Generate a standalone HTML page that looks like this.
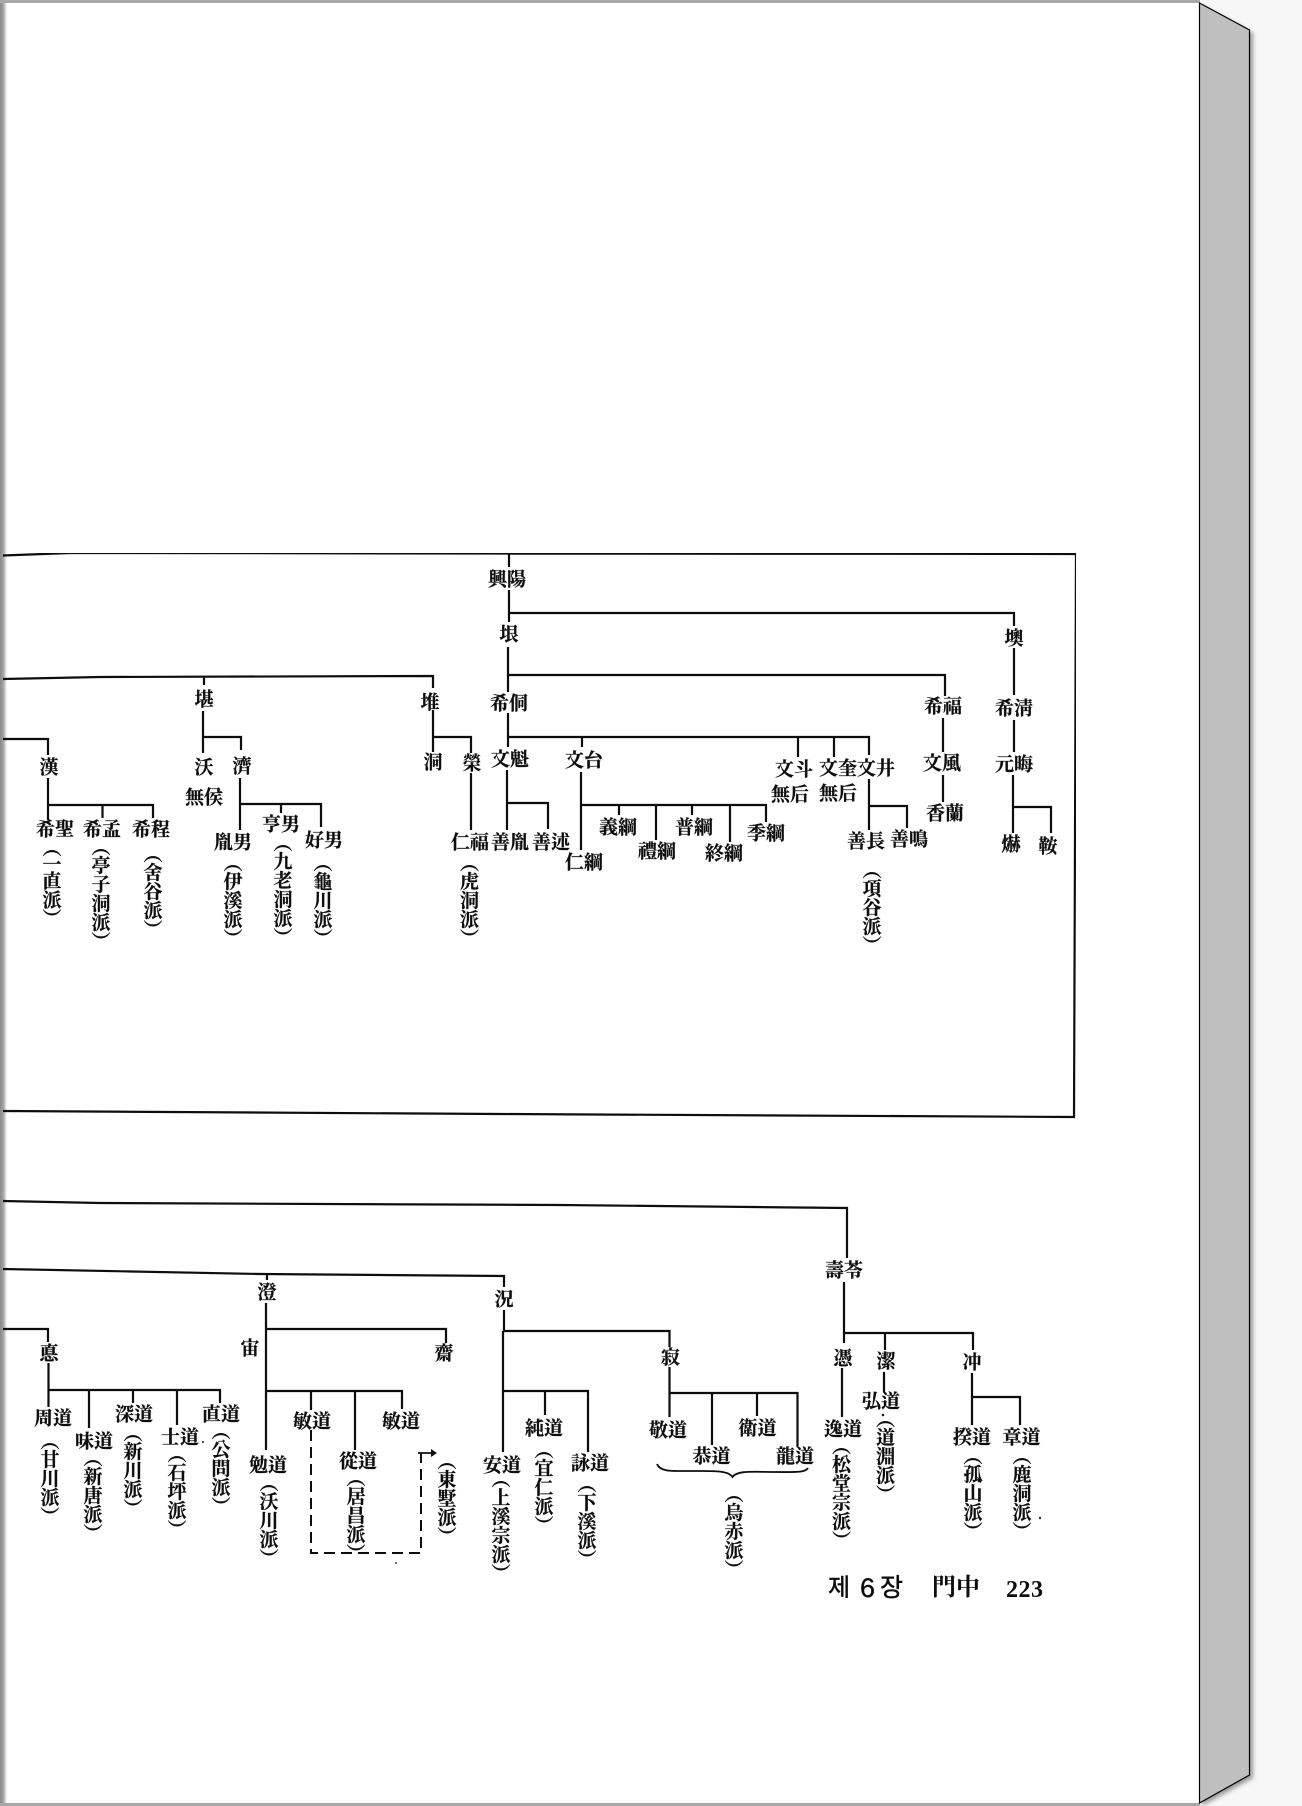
<!DOCTYPE html>
<html lang="ko">
<head>
<meta charset="utf-8">
<style>
html,body{margin:0;padding:0;background:#f7f7f7;}
svg{display:block;position:absolute;left:0;top:0;}
.t{font-family:"Liberation Serif","Noto Serif CJK SC","Noto Serif CJK JP",serif;font-size:19px;font-weight:700;fill:#111;stroke:#111;stroke-width:.25px;text-anchor:middle;dominant-baseline:central;transform:translateY(1px);}
.v{font-family:"Liberation Serif","Noto Serif CJK SC","Noto Serif CJK JP",serif;font-size:19px;font-weight:700;fill:#111;stroke:#111;stroke-width:.25px;writing-mode:vertical-rl;letter-spacing:0;font-feature-settings:"vpal";transform:translateX(-1px);}
.f{font-family:"Liberation Sans","Noto Sans CJK KR",sans-serif;font-size:25px;font-weight:700;fill:#111;dominant-baseline:central;}
</style>
</head>
<body>
<svg width="1302" height="1806" viewBox="0 0 1302 1806" xmlns="http://www.w3.org/2000/svg">
<defs>
<linearGradient id="lg" x1="0" x2="1" y1="0" y2="0"><stop offset="0" stop-color="#8a8a8a"/><stop offset=".45" stop-color="#a0a0a0"/><stop offset="1" stop-color="#ffffff"/></linearGradient>
<filter id="sh" x="-20%" y="-2%" width="140%" height="104%"><feGaussianBlur stdDeviation="2"/></filter>
<filter id="soft" x="0" y="0" width="100%" height="100%"><feGaussianBlur stdDeviation="0.35"/></filter>
</defs>
<rect width="1302" height="1806" fill="#f7f7f7"/>
<polygon points="1202,6 1253,33 1253,1778 1202,1806" fill="#9a9a9a" filter="url(#sh)"/>
<rect x="0" y="0" width="1199.5" height="1806" fill="#fff"/>
<rect x="0" y="0" width="7" height="1806" fill="url(#lg)"/>
<rect x="0" y="0" width="1200" height="3" fill="#a8a8a8"/>
<rect x="0" y="1803" width="1200" height="3" fill="#a8a8a8"/>
<polygon points="1199.5,3 1249.5,30 1249.5,1775 1199.5,1803" fill="#bfbfbf" stroke="#000" stroke-width="1.2"/>

<g filter="url(#soft)">
<path fill="none" stroke="#111" stroke-width="2.200" d="
M3 555.500 L70 553 L509 553.500 L1076 554 L1074 1117 L500 1114 L3 1111
M3 679 L100 677 L433 676 L433 688
M204 676 V685
M203 711 V753 M203 737 H241 V750
M433 710 V752 M433 737 H471 V753
M3 739 H48 V755 M48 778 V820 M48 805 H153 V818 M102.500 805 V818
M240 778 V830 M240 804 H321 V827 M281 804 V813
M471 773 V830
M509 554 V567 M509 590 V622 M509 613 H1014 V626
M508 647 V692 M508 675 H945 V696
M508 713 V747 M508 737 H869 V755 M582 737 V747 M798 737 V757 M834 737 V757
M507 770 V830 M507 803 H548 V829
M581 772 V850 M581 805 H766 V822 M619 805 V815 M656 805 V840 M692 805 V815 M730 805 V842
M869 779 V830 M869 806 H907 V828
M943 718 V752 M943 775 V802
M1014 648 V695 M1014 720 V752 M1013 775 V833 M1013 807 H1051 V833
M3 1201 L100 1203 L560 1205 L847 1208 V1258
M844 1282 V1343 M844 1333 H973 V1350 M885 1333 V1350
M842 1368 V1417 M884 1372 V1392 M972 1373 V1425 M972 1397 H1020 V1425
M3 1269 L260 1274 L504 1276 V1287 M267 1274 V1280
M266 1303 V1450 M266 1329 H446 V1343 M266 1391 H402 V1409 M311 1391 V1410 M355 1391 V1450
M3 1329 H48 V1342 M48.500 1363 V1407 M48 1390 H220 V1403 M89 1390 V1428 M133 1390 V1403 M177 1390 V1425
M504 1310 V1331 M503 1331 V1452 M504 1331 H669.500 V1347 M503 1391 H588 V1452 M545 1391 V1415
M669.500 1367 V1417 M669.500 1393 H797.500 V1447 M712 1393 V1445 M757 1393 V1416
"/>
<path fill="none" stroke="#111" stroke-width="2" stroke-dasharray="11 6" d="M311 1430 V1553 H421 V1453"/>
<path fill="none" stroke="#111" stroke-width="1.800" d="M418 1453 H435"/>
<path fill="#111" d="M431 1449 L437 1453 L431 1457 Z"/>
<path fill="none" stroke="#111" stroke-width="1.800" d="M657 1464 C660 1472 672 1471 690 1471 C712 1471 728 1470 732.500 1477 C737 1470 755 1472 775 1472 C795 1472 805 1473 808 1468"/>
<circle cx="203" cy="1442" r="1" fill="#222"/><circle cx="396" cy="1563" r="1" fill="#444"/><circle cx="883" cy="1415" r="1.300" fill="#222"/><circle cx="1040" cy="1518" r="1.200" fill="#222"/>

<g class="lab">
<text class="t" x="507" y="579">興陽</text>
<text class="t" x="204" y="699">堪</text>
<text class="t" x="430" y="702">堆</text>
<text class="t" x="433" y="762">洞</text>
<text class="t" x="472" y="763">榮</text>
<text class="t" x="204" y="767">沃</text>
<text class="t" x="242" y="766">濟</text>
<text class="t" x="204" y="797">無侯</text>
<text class="t" x="49" y="767">漢</text>
<text class="t" x="55" y="829">希聖</text>
<text class="t" x="102" y="829">希孟</text>
<text class="t" x="151" y="829">希程</text>
<text class="t" x="233" y="842">胤男</text>
<text class="t" x="281" y="824">亨男</text>
<text class="t" x="324" y="840">好男</text>
<text class="t" x="470" y="842">仁福</text>
<text class="t" x="510" y="842">善胤</text>
<text class="t" x="551" y="842">善述</text>
<text class="t" x="509" y="634">垠</text>
<text class="t" x="509" y="703">希侗</text>
<text class="t" x="510" y="759">文魁</text>
<text class="t" x="584" y="760">文台</text>
<text class="t" x="794" y="769">文斗</text>
<text class="t" x="838" y="768">文奎</text>
<text class="t" x="876" y="768">文井</text>
<text class="t" x="790" y="794">無后</text>
<text class="t" x="838" y="793">無后</text>
<text class="t" x="618" y="827">義綱</text>
<text class="t" x="657" y="851">禮綱</text>
<text class="t" x="694" y="827">普綱</text>
<text class="t" x="724" y="853">終綱</text>
<text class="t" x="766" y="833">季綱</text>
<text class="t" x="584" y="862">仁綱</text>
<text class="t" x="866" y="841">善長</text>
<text class="t" x="909" y="839">善鳴</text>
<text class="t" x="943" y="706">希福</text>
<text class="t" x="942" y="763">文風</text>
<text class="t" x="945" y="813">香蘭</text>
<text class="t" x="1014" y="638">墺</text>
<text class="t" x="1014" y="708">希淸</text>
<text class="t" x="1014" y="764">元晦</text>
<text class="t" x="1011" y="844">爀</text>
<text class="t" x="1048" y="846">鞍</text>

<text class="t" x="844" y="1270">壽苓</text>
<text class="t" x="843" y="1358">憑</text>
<text class="t" x="886" y="1361">潔</text>
<text class="t" x="972" y="1362">冲</text>
<text class="t" x="881" y="1401">弘道</text>
<text class="t" x="843" y="1429">逸道</text>
<text class="t" x="972" y="1437">揆道</text>
<text class="t" x="1021.500" y="1437">章道</text>
<text class="t" x="267" y="1292">澄</text>
<text class="t" x="250" y="1348">宙</text>
<text class="t" x="444" y="1353">齋</text>
<text class="t" x="312" y="1421">敏道</text>
<text class="t" x="401" y="1421">敏道</text>
<text class="t" x="358" y="1461">從道</text>
<text class="t" x="268" y="1465">勉道</text>
<text class="t" x="49" y="1353">悳</text>
<text class="t" x="53" y="1418">周道</text>
<text class="t" x="94" y="1441">味道</text>
<text class="t" x="134" y="1414">深道</text>
<text class="t" x="180" y="1437">士道</text>
<text class="t" x="221" y="1414">直道</text>
<text class="t" x="504" y="1299">況</text>
<text class="t" x="670.500" y="1357">寂</text>
<text class="t" x="668" y="1430">敬道</text>
<text class="t" x="711.500" y="1456">恭道</text>
<text class="t" x="757.500" y="1428">衛道</text>
<text class="t" x="795" y="1456">龍道</text>
<text class="t" x="502" y="1465">安道</text>
<text class="t" x="544" y="1428">純道</text>
<text class="t" x="590" y="1463">詠道</text>

<text class="v" x="51" y="847">（一直派）</text>
<text class="v" x="100" y="846">（亭子洞派）</text>
<text class="v" x="152" y="853">（舍谷派）</text>
<text class="v" x="232" y="862">（伊溪派）</text>
<text class="v" x="282" y="842">（九老洞派）</text>
<text class="v" x="322" y="862">（龜川派）</text>
<text class="v" x="468.500" y="862">（虎洞派）</text>
<text class="v" x="871" y="869">（項谷派）</text>
<text class="v" x="840.500" y="1445">（松堂宗派）</text>
<text class="v" x="884.500" y="1418">（道淵派）</text>
<text class="v" x="972" y="1455">（孤山派）</text>
<text class="v" x="1021" y="1455">（鹿洞派）</text>
<text class="v" x="268" y="1482">（沃川派）</text>
<text class="v" x="355" y="1477">（居昌派）</text>
<text class="v" x="446" y="1460">（東墅派）</text>
<text class="v" x="49" y="1440">（甘川派）</text>
<text class="v" x="92" y="1457">（新唐派）</text>
<text class="v" x="132" y="1432">（新川派）</text>
<text class="v" x="176" y="1453">（石坪派）</text>
<text class="v" x="220" y="1430">（公問派）</text>
<text class="v" x="733" y="1493">（烏赤派）</text>
<text class="v" x="500" y="1478">（上溪宗派）</text>
<text class="v" x="543" y="1449">（宜仁派）</text>
<text class="v" x="586" y="1483">（下溪派）</text>

<text class="f" x="828" y="1588" style="font-size:24px;font-weight:400;stroke:#111;stroke-width:.5px">제</text>
<text class="f" x="860" y="1588" style="font-size:27px;font-family:'Liberation Sans',sans-serif;font-weight:400;stroke:#111;stroke-width:.4px">6</text>
<text class="f" x="880" y="1588" style="font-size:25px;font-weight:400;stroke:#111;stroke-width:.5px">장</text>
<text class="f" x="932" y="1588" style="font-family:'Liberation Serif','Noto Serif CJK SC',serif;font-size:24px">門中</text>
<text class="f" x="1006" y="1590" style="font-family:'Liberation Serif',serif;font-size:24px;letter-spacing:.5px">223</text>
</g>
</g>
</svg>
</body>
</html>
